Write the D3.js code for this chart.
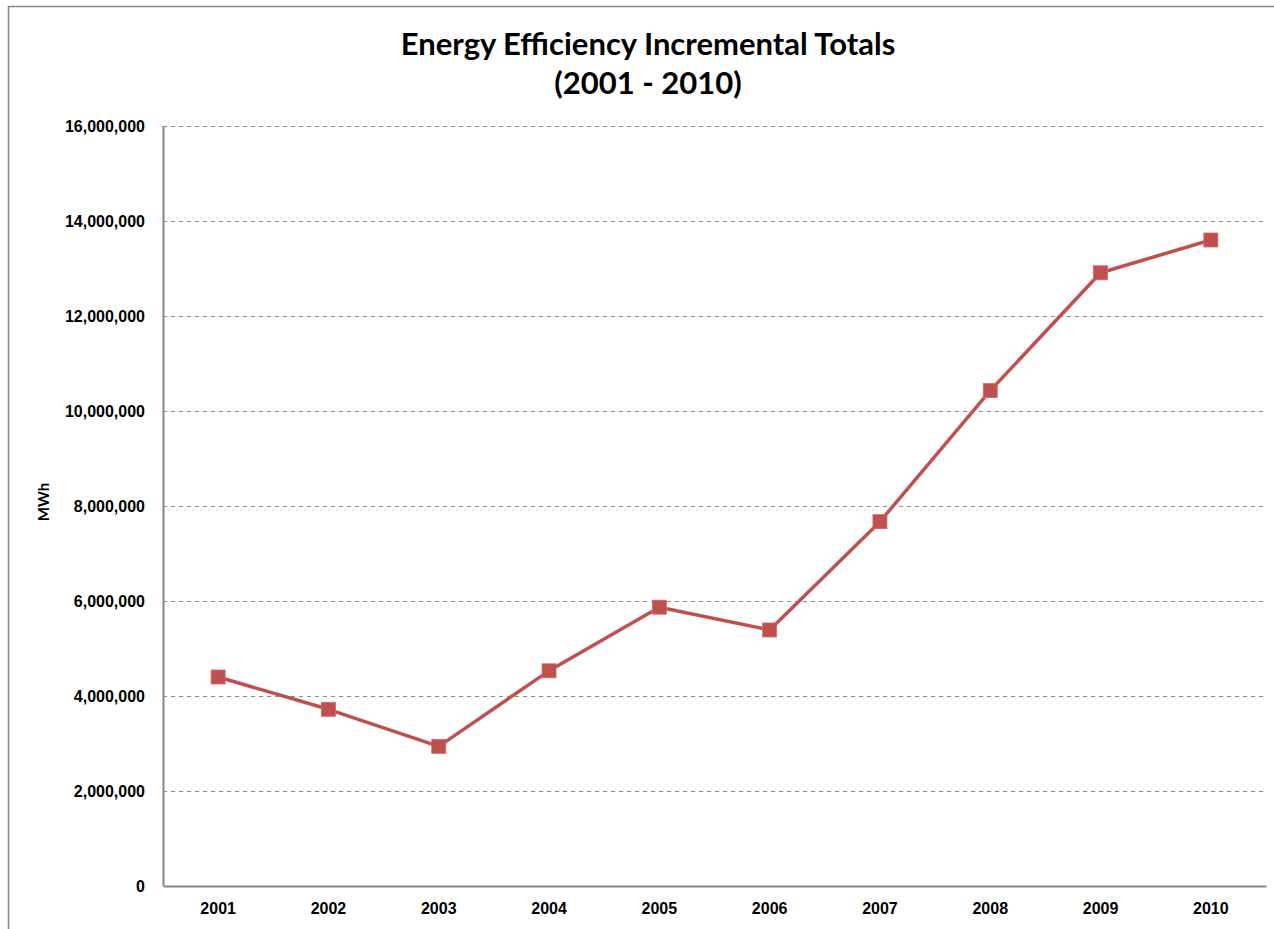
<!DOCTYPE html>
<html>
<head>
  <meta charset="utf-8">
  <script src="https://d3js.org/d3.v7.min.js"></script>
  <style type="text/css">
  body { margin: 0; background: #fff; }
  svg { display: block; font-family: Lato, "Open Sans", sans-serif; }
  .yaxis path, .xaxis .tick line, .yaxis .tick line { display: none; }
  .xaxis path { stroke: #868686; stroke-width: 2; }
  .tick text { font-size: 16px; font-weight: bold; fill: #000; }
  .grid line { stroke: #8c8c8c; stroke-dasharray: 4,4; stroke-width: 1; }
  </style>
</head>
<body>
  <script type="text/javascript">
    // data
    var years = ["2001", "2002", "2003", "2004", "2005", "2006", "2007", "2008", "2009", "2010"];
    var totals = [4400000, 3720000, 2940000, 4530000, 5870000, 5390000, 7670000, 10430000, 12910000, 13600000];
    var yTicks = [0, 2000000, 4000000, 6000000, 8000000, 10000000, 12000000, 14000000, 16000000];

    var width = 1274, height = 929;
    var margin = {top: 126, right: 8, bottom: 43, left: 163};
    var innerW = width - margin.left - margin.right,
        innerH = height - margin.top - margin.bottom;

    var svg = d3.select("body").append("svg")
      .attr("width", width)
      .attr("height", height);

    // outer chart border (runs off the right and bottom)
    svg.append("rect")
      .attr("x", 8.5).attr("y", 6.5)
      .attr("width", width + 20).attr("height", height + 20)
      .attr("fill", "none")
      .attr("stroke", "#868686")
      .attr("stroke-width", 1.5);

    var g = svg.append("g")
      .attr("transform", "translate(" + margin.left + "," + margin.top + ")");

    var x = d3.scaleBand().domain(years).range([0, innerW]).padding(0);
    var y = d3.scaleLinear().domain([0, 16000000]).range([innerH, 0]);

    // dashed gridlines
    g.append("g").attr("class", "grid")
      .selectAll("line")
      .data(yTicks.filter(function(d) { return d > 0; }))
      .enter().append("line")
      .attr("x1", 0).attr("x2", innerW)
      .attr("y1", function(d) { return Math.round(y(d)) + 0.5; })
      .attr("y2", function(d) { return Math.round(y(d)) + 0.5; });

    // y axis
    g.append("g").attr("class", "yaxis")
      .call(d3.axisLeft(y).tickValues(yTicks).tickFormat(d3.format(",")).tickSize(0).tickPadding(18));

    g.append("line")
      .attr("x1", 0.5).attr("x2", 0.5)
      .attr("y1", 0).attr("y2", innerH)
      .attr("stroke", "#868686").attr("stroke-width", 2);

    // x axis
    g.append("g").attr("class", "xaxis")
      .attr("transform", "translate(0," + innerH + ")")
      .call(d3.axisBottom(x).tickSize(0).tickPadding(17).tickSizeOuter(0));

    // y label
    svg.append("text")
      .attr("transform", "translate(49," + (margin.top + innerH / 2 - 4) + ") rotate(-90)")
      .attr("text-anchor", "middle")
      .style("font-size", "15px")
      .style("font-weight", "bold")
      .text("MWh");

    // title
    var title = svg.append("text")
      .attr("text-anchor", "middle")
      .style("font-size", "31px")
      .style("font-weight", "bold");
    title.append("tspan").attr("x", 648).attr("y", 55).text("Energy Efficiency Incremental Totals");
    title.append("tspan").attr("x", 648).attr("y", 94).text("(2001 - 2010)");

    var pts = years.map(function(yr, i) { return {year: yr, value: totals[i]}; });
    var cx = function(d) { return x(d.year) + x.bandwidth() / 2; };

    var line = d3.line()
      .x(cx)
      .y(function(d) { return y(d.value); });

    g.append("path")
      .datum(pts)
      .attr("fill", "none")
      .attr("stroke", "#C0504D")
      .attr("stroke-width", 3.5)
      .attr("stroke-linejoin", "round")
      .attr("d", line);

    g.selectAll(".marker")
      .data(pts)
      .enter().append("rect")
      .attr("class", "marker")
      .attr("x", function(d) { return cx(d) - 7; })
      .attr("y", function(d) { return y(d.value) - 7; })
      .attr("width", 14).attr("height", 14)
      .attr("fill", "#C0504D")
      .attr("stroke", "#d06a67")
      .attr("stroke-width", 0.8);
  </script>
</body>
</html>
